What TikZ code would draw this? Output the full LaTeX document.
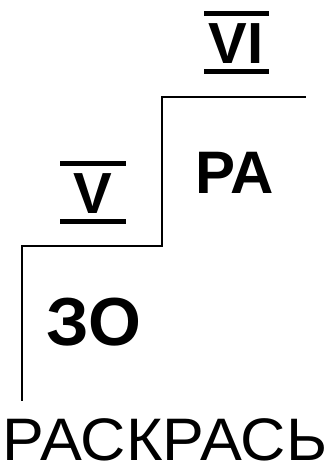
\documentclass[tikz,border=0pt]{standalone}
\usepackage{fontspec}
\setmainfont{Liberation Sans}
\usetikzlibrary{positioning}
\tikzset{
  syl/.style={font=\fontsize{#1}{#1}\selectfont\bfseries,inner sep=0pt,anchor=base},
  syl/.default=60,
  grade/.style={font=\fontsize{58}{58}\selectfont\bfseries,inner sep=0pt,anchor=base},
  bar/.style={line width=5pt},
  stair/.style={line width=2pt,line cap=rect},
  title/.style={font=\fontsize{60}{60}\selectfont,inner sep=0pt,anchor=base,xscale=1.045},
}
\begin{document}
\begin{tikzpicture}[x=1pt,y=-1pt]
  \useasboundingbox (0,0) rectangle (327,474);
  % steps
  \draw[stair] (22,400) -- (22,246) -- (162,246) -- (162,97) -- (305,97);
  % grade numbers
  \node[grade] (six) at (236,63) {VI};
  \draw[bar] (204,13) -- (269,13) (204,71) -- (269,71);
  \node[grade] (five) at (93,213) {V};
  \draw[bar] (60,163) -- (126,163) (60,221) -- (126,221);
  % syllables
  \node[syl] (ra) at (235,193) {РА};
  \node[syl=68] (zo) at (94,345) {ЗО};
  \node[title] (paint) at (165,460) {РАСКРАСЬ};
\end{tikzpicture}
\end{document}
